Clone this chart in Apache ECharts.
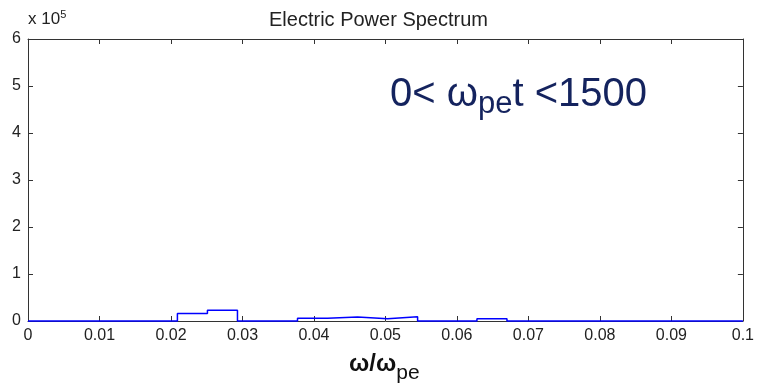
<!DOCTYPE html>
<html>
<head>
<meta charset="utf-8">
<script src="https://cdn.jsdelivr.net/npm/echarts@6/dist/echarts.min.js"></script>
<style>
  html, body { margin: 0; padding: 0; background: #fff; }
  #chart { width: 757px; height: 390px; }
</style>
</head>
<body>
<div id="chart"></div>
<script>
// Frequency bin edges (omega / omega_pe) and spectral power in each bin
const binEdges = [0, 0.0209, 0.0251, 0.0293, 0.0377, 0.0419, 0.0461, 0.0503, 0.0545, 0.0628, 0.0670, 0.1];
const binPower = [0, 16000, 23000, 0, 6000, 8500, 5000, 9000, 0, 5000, 0];
const yTickLabels = ['0', '1', '2', '3', '4', '5', '6'];
const xTickLabels = ['0', '0.01', '0.02', '0.03', '0.04', '0.05', '0.06', '0.07', '0.08', '0.09', '0.1'];

// Histogram outline: each bin value held flat from its left edge to its right edge
const stairs = [];
binPower.forEach((p, i) => {
  stairs.push([binEdges[i], p]);
  stairs.push([binEdges[i + 1], p]);
});

const axisColor = '#333';
const fontFamily = 'Liberation Sans, Arial, sans-serif';
const labelFont = { fontFamily: fontFamily, fontSize: 16, color: '#222' };

const chart = echarts.init(document.getElementById('chart'), null, { renderer: 'canvas' });

const boxAxis = {
  axisLine: { show: true, onZero: false, lineStyle: { color: axisColor, width: 1 } },
  axisTick: { show: true, inside: true, length: 5, lineStyle: { color: axisColor } },
  splitLine: { show: false }
};

chart.setOption({
  animation: false,
  backgroundColor: '#fff',
  title: {
    text: 'Electric Power Spectrum',
    left: 'center',
    top: 5,
    textStyle: { fontFamily: fontFamily, fontSize: 20, fontWeight: 'normal', color: '#222' }
  },
  grid: { left: 28, right: 11, top: 39, bottom: 69, containLabel: false },
  xAxis: [
    Object.assign({
      type: 'value', position: 'bottom', min: 0, max: 0.1, interval: 0.01,
      axisLabel: Object.assign({ margin: 7, formatter: (v) => xTickLabels[Math.round(v * 100)] }, labelFont)
    }, boxAxis),
    Object.assign({
      type: 'value', position: 'top', min: 0, max: 0.1, interval: 0.01,
      axisLabel: { show: false }
    }, boxAxis)
  ],
  yAxis: [
    Object.assign({
      type: 'value', position: 'left', min: 0, max: 600000, interval: 100000,
      axisLabel: Object.assign({ margin: 7, formatter: (v) => yTickLabels[Math.round(v / 100000)] }, labelFont)
    }, boxAxis),
    Object.assign({
      type: 'value', position: 'right', min: 0, max: 600000, interval: 100000,
      axisLabel: { show: false }
    }, boxAxis)
  ],
  series: [{
    type: 'line',
    xAxisIndex: 0,
    yAxisIndex: 0,
    data: stairs,
    showSymbol: false,
    clip: false,
    lineStyle: { color: '#0000ff', width: 1.5 },
    z: 5
  }],
  graphic: [
    {
      // exponent multiplier for the y axis
      type: 'text', left: 28, top: 9,
      style: {
        text: '{m|x 10}{s|5}',
        rich: {
          m: { fontFamily: fontFamily, fontSize: 17, fill: '#222', lineHeight: 20, verticalAlign: 'middle' },
          s: { fontFamily: fontFamily, fontSize: 11, fill: '#222', lineHeight: 8, verticalAlign: 'top' }
        }
      }
    },
    {
      // x axis title  ω/ω_pe
      type: 'text', left: 349, top: 352,
      style: {
        text: '{m|ω/ω}{s|pe}',
        rich: {
          m: { fontFamily: fontFamily, fontSize: 24, fontWeight: 'bold', fill: '#111', lineHeight: 40, verticalAlign: 'middle' },
          s: { fontFamily: fontFamily, fontSize: 21, fill: '#111', lineHeight: 10, verticalAlign: 'bottom' }
        }
      }
    },
    {
      // time window annotation
      type: 'text', left: 390, top: 75,
      style: {
        text: '{m|0< ω}{s|pe}{m|t <1500}',
        rich: {
          m: { fontFamily: fontFamily, fontSize: 40, fill: '#14235e', lineHeight: 50, verticalAlign: 'middle' },
          s: { fontFamily: fontFamily, fontSize: 31, fill: '#14235e', lineHeight: 25, verticalAlign: 'bottom' }
        }
      }
    }
  ]
});
</script>
</body>
</html>
